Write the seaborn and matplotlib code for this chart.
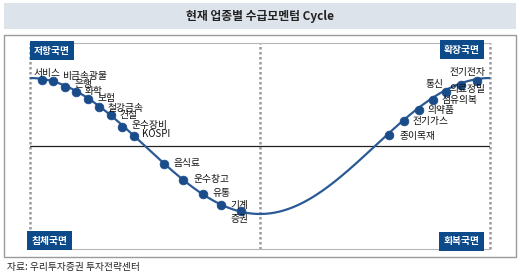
import numpy as np
import pandas as pd
import matplotlib
matplotlib.use("Agg")
import matplotlib.pyplot as plt
from matplotlib.patches import Rectangle
import seaborn as sns

# ---------------- data ----------------
title = "현재 업종별 수급모멘텀 Cycle"
source = "자료: 우리투자증권 투자전략센터"
phase_labels = ["저항국면", "확장국면", "침체국면", "회복국면"]

sectors = ["서비스", "비금속광물", "은행", "화학", "보험", "철강금속", "건설", "운수장비", "KOSPI",
           "음식료", "운수창고", "유통", "기계", "증권",
           "종이목재", "전기가스", "의약품", "섬유의복", "의료정밀", "통신", "전기전자"]
cycle_pos = [0.025, 0.050, 0.076, 0.101, 0.125, 0.150, 0.175, 0.199, 0.226,
             0.291, 0.332, 0.375, 0.415, 0.459,
             0.781, 0.814, 0.846, 0.877, 0.904, 0.936, 0.971]
momentum = [0.97, 0.95, 0.87, 0.80, 0.69, 0.58, 0.45, 0.28, 0.15,
            -0.27, -0.50, -0.71, -0.87, -0.96,
            0.16, 0.37, 0.53, 0.68, 0.80, 0.90, 0.96]

# label placement (pixels offset, alignment) – styling only
label_offsets = [(-8.4, 7.3, "left"), (8.7, 5.7, "left"), (10, 2.7, "left"), (8.3, 0.7, "left"),
                 (10, 0.7, "left"), (9, -1.3, "left"), (9.3, 0, "left"), (10, 1.7, "left"),
                 (7.7, 2, "left"),
                 (9.3, 1, "left"), (10.6, 0.7, "left"), (10, 1.3, "left"), (9.7, 0, "left"),
                 (-1.5, -8, "center"),
                 (10, -1, "left"), (8.4, 0, "left"), (8.3, 0, "left"), (8.4, 0, "left"),
                 (4, 2.4, "left"), (-16.7, 1, "right"), (-26.7, 9, "left")]

df = pd.DataFrame({"sector": sectors, "pos": cycle_pos, "mom": momentum})

# schematic cycle curve (guide shape)
cx = np.linspace(0, 1, 300)
curve = pd.DataFrame({"x": cx, "y": np.cos(2 * np.pi * cx)})

# ---------------- style ----------------
sns.set_theme(style="white")
plt.rcParams["font.family"] = ["Noto Sans CJK KR", "DejaVu Sans"]

W, H = 520, 277
fig = plt.figure(figsize=(W / 100, H / 100), dpi=100)
fig.patch.set_facecolor("white")

def fx(px):
    return px / W

def fy(py):
    return 1 - py / H

# title band
fig.add_artist(Rectangle((fx(4), fy(29)), fx(512), 26 / H, transform=fig.transFigure,
                         facecolor="#dce3ea", edgecolor="none", zorder=0))
fig.text(0.5, fy(16), title, ha="center", va="center", fontsize=8.5, fontweight="bold",
         color="#222222")
# outer frame
fig.add_artist(Rectangle((fx(4), fy(257)), fx(512), 222 / H, transform=fig.transFigure,
                         facecolor="none", edgecolor="#9a9a9a", lw=1, zorder=0))
fig.text(fx(7), fy(267), source, ha="left", va="center", fontsize=7, color="#222222")

# main axes
ax = fig.add_axes([fx(30), fy(249), fx(460), 206 / H])
ax.set_facecolor("none")
ax.set_xlim(0, 1)
ax.set_ylim(-1.515, 1.515)
ax.set_xticks([])
ax.set_yticks([])
for s in ["left", "right"]:
    ax.spines[s].set_visible(False)
for s in ["top", "bottom"]:
    ax.spines[s].set_color("#b5b5b5")
    ax.spines[s].set_linewidth(0.8)

ax.axhline(0, color="#222222", lw=0.9, zorder=1)
for xv in [0, 0.5, 1]:
    ax.axvline(xv, color="#9a9a9a", lw=1.8, ls=(0, (1, 1)), zorder=1, clip_on=False)

sns.lineplot(data=curve, x="x", y="y", ax=ax, color="#2a5a96", lw=1.6, zorder=2,
             sort=False, legend=False)
sns.scatterplot(data=df, x="pos", y="mom", ax=ax, color="#1b4c8a", s=40, edgecolor="#1b4c8a",
                linewidth=0.5, zorder=3, legend=False)
ax.set_xlabel("")
ax.set_ylabel("")

for name, x, y, (dx, dy, ha) in zip(sectors, cycle_pos, momentum, label_offsets):
    ax.annotate(name, (x, y), xytext=(dx, dy), textcoords="offset pixels",
                ha=ha, va="center", fontsize=7, color="#111111", zorder=4)

box = dict(boxstyle="square,pad=0.45", facecolor="#0d4a8a", edgecolor="none")
quad_pos = [(0.0478, 0.962), (0.939, 0.968), (0.043, 0.040), (0.9385, 0.038)]
for txt, (qx, qy) in zip(phase_labels, quad_pos):
    ax.text(qx, qy, txt, transform=ax.transAxes, ha="center", va="center", fontsize=7,
            fontweight="bold", color="white", bbox=box, zorder=5)

fig.savefig("out.png", dpi=100)
